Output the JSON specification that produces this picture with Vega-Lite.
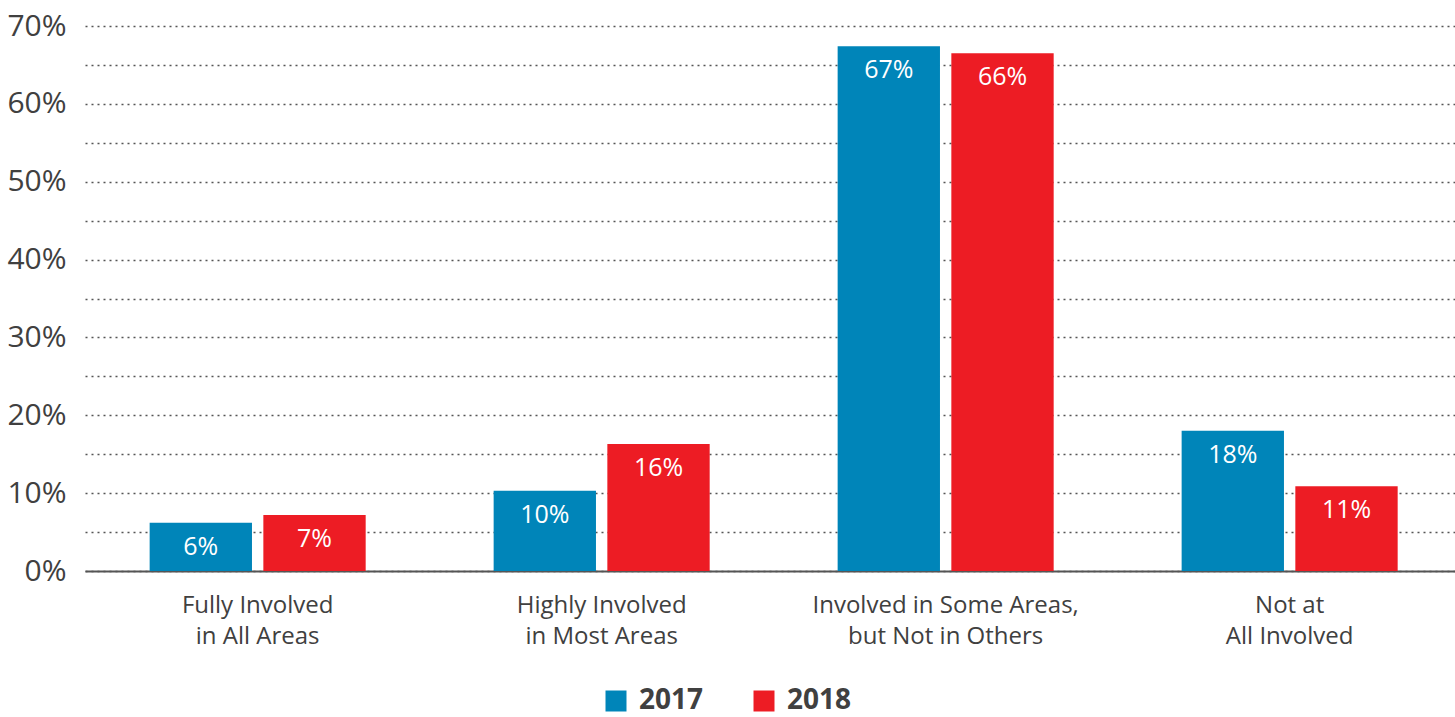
{
  "$schema": "https://vega.github.io/schema/vega-lite/v6.json",
  "width": 1370,
  "height": 545,
  "autosize": "none",
  "padding": {"left": 85, "top": 26, "right": 0, "bottom": 146},
  "background": "white",
  "config": {
    "font": "Open Sans",
    "view": {"stroke": null}
  },
  "data": {
    "values": [
      {"category": "Fully Involved|in All Areas", "year": "2017", "value": 6.2, "label": "6%"},
      {"category": "Fully Involved|in All Areas", "year": "2018", "value": 7.2, "label": "7%"},
      {"category": "Highly Involved|in Most Areas", "year": "2017", "value": 10.3, "label": "10%"},
      {"category": "Highly Involved|in Most Areas", "year": "2018", "value": 16.3, "label": "16%"},
      {"category": "Involved in Some Areas,|but Not in Others", "year": "2017", "value": 67.4, "label": "67%"},
      {"category": "Involved in Some Areas,|but Not in Others", "year": "2018", "value": 66.5, "label": "66%"},
      {"category": "Not at|All Involved", "year": "2017", "value": 18.0, "label": "18%"},
      {"category": "Not at|All Involved", "year": "2018", "value": 10.9, "label": "11%"}
    ]
  },
  "encoding": {
    "x": {
      "field": "category",
      "type": "nominal",
      "sort": null,
      "scale": {"paddingInner": 0.372, "paddingOuter": 0.1773, "align": 0.53},
      "axis": {
        "title": null,
        "labelAngle": 0,
        "labelExpr": "split(datum.label, '|')",
        "labelFontSize": 24,
        "labelColor": "#404040",
        "labelLineHeight": 31,
        "labelPadding": 22,
        "labelLimit": 0,
        "ticks": false,
        "domain": true,
        "domainColor": "#555555",
        "domainWidth": 2,
        "labelBaseline": "top"
      }
    },
    "xOffset": {"field": "year", "type": "nominal", "scale": {"paddingInner": 0.1}},
    "y": {
      "field": "value",
      "type": "quantitative",
      "scale": {"domain": [0, 70], "nice": false},
      "axis": {
        "title": null,
        "values": [0, 5, 10, 15, 20, 25, 30, 35, 40, 45, 50, 55, 60, 65, 70],
        "labelExpr": "datum.value % 10 == 0 ? datum.value + '%' : ''",
        "labelFontSize": 30,
        "labelColor": "#404040",
        "labelPadding": 19,
        "ticks": false,
        "domain": false,
        "grid": true,
        "gridColor": "#555555",
        "gridDash": [2, 4],
        "gridWidth": 1.5
      }
    }
  },
  "layer": [
    {
      "mark": {"type": "bar"},
      "encoding": {
        "color": {
          "field": "year",
          "type": "nominal",
          "scale": {"domain": ["2017", "2018"], "range": ["#0085B9", "#ED1C24"]},
          "legend": {
            "title": null,
            "orient": "none",
            "direction": "horizontal",
            "legendX": 517,
            "legendY": 661,
            "symbolType": "square",
            "symbolSize": 441,
            "symbolStrokeWidth": 0,
            "symbolOpacity": 1,
            "labelFontSize": 28,
            "labelFontWeight": "bold",
            "labelColor": "#404040",
            "labelOffset": 9,
            "labelLimit": 0,
            "columnPadding": 46
          }
        }
      }
    },
    {
      "mark": {"type": "text", "color": "white", "fontSize": 25, "baseline": "middle", "dy": 24},
      "encoding": {
        "text": {"field": "label"}
      }
    }
  ]
}
